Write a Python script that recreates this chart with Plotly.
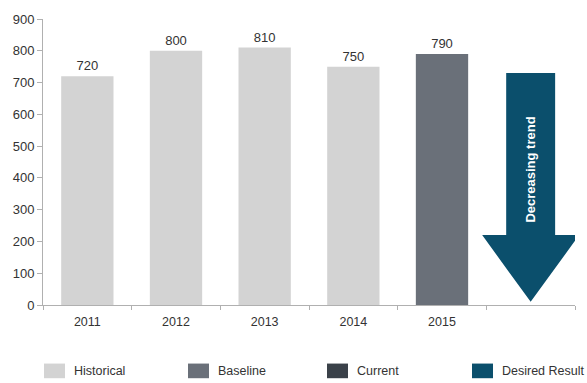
import plotly.graph_objects as go

# --- data ---------------------------------------------------------------
years = ["2011", "2012", "2013", "2014", "2015"]
values = [720, 800, 810, 750, 790]
bar_groups = ["Historical", "Historical", "Historical", "Historical", "Baseline"]

legend_names = ["Historical", "Baseline", "Current", "Desired Result"]
legend_colors = ["#d3d3d3", "#6a7079", "#3a4149", "#0b4f6c"]
group_color = dict(zip(legend_names, legend_colors))

# target arrow (drawn in the empty sixth slot)
arrow_top = 730
arrow_head_base = 220
arrow_tip = 10
arrow_label = "Decreasing trend"

W, H = 587, 383
M = dict(l=43, r=12, t=12, b=78)
FONT = "Liberation Sans, Arial, sans-serif"
TXT = "#333333"

fig = go.Figure()

xs = list(range(len(years)))
fig.add_trace(go.Bar(
    x=xs, y=values,
    marker=dict(color=[group_color[g] for g in bar_groups], line=dict(width=0)),
    width=0.59,
    text=[str(v) for v in values], textposition="outside",
    textfont=dict(family=FONT, size=13, color=TXT),
    cliponaxis=False, showlegend=False, hoverinfo="skip",
))

# arrow polygon centred on slot index 5
cx = len(years)
bw, hw = 0.276, 0.547
ax_pts = [cx - bw, cx + bw, cx + bw, cx + hw, cx, cx - hw, cx - bw, cx - bw]
ay_pts = [arrow_top, arrow_top, arrow_head_base, arrow_head_base, arrow_tip,
          arrow_head_base, arrow_head_base, arrow_top]
fig.add_trace(go.Scatter(
    x=ax_pts, y=ay_pts, mode="lines", fill="toself",
    fillcolor=group_color["Desired Result"], line=dict(width=0),
    showlegend=False, hoverinfo="skip",
))
fig.add_annotation(
    x=cx, y=(arrow_top + arrow_head_base) / 2 - 50, text="<b>" + arrow_label + "</b>",
    textangle=-90, showarrow=False,
    font=dict(family=FONT, size=13, color="white"),
)

# --- legend row (swatch + label), placed in pixel terms ------------------
pw = W - M["l"] - M["r"]
ph = H - M["t"] - M["b"]


def px_x(p):
    return (p - M["l"]) / pw


def px_y(p):
    return (H - M["b"] - p) / ph


swatch_left = [44, 188, 327, 472]
for name, col, sx in zip(legend_names, legend_colors, swatch_left):
    fig.add_shape(type="rect", xref="paper", yref="paper",
                  x0=px_x(sx), x1=px_x(sx + 21), y0=px_y(380), y1=px_y(365),
                  fillcolor=col, line=dict(width=0))
    fig.add_annotation(xref="paper", yref="paper", x=px_x(sx + 28), y=px_y(373),
                       text=name, showarrow=False, xanchor="left", yanchor="middle",
                       font=dict(family=FONT, size=12.5, color=TXT))

axis_col = "#b0b0b0"
fig.update_layout(
    width=W, height=H, margin=M,
    paper_bgcolor="white", plot_bgcolor="white",
    font=dict(family=FONT, size=12, color=TXT),
    xaxis=dict(
        range=[-0.5, 5.5], tickvals=xs, ticktext=years, ticks="",
        showline=True, linecolor=axis_col, linewidth=1, showgrid=False, zeroline=False,
        minor=dict(tick0=-0.5, dtick=1, ticks="outside", ticklen=4, tickcolor=axis_col),
        tickfont=dict(family=FONT, size=12.5, color=TXT), ticklabelstandoff=5,
    ),
    yaxis=dict(
        range=[0, 900], dtick=100, ticks="outside", ticklen=5, tickcolor=axis_col,
        showline=True, linecolor=axis_col, linewidth=1, showgrid=False, zeroline=False,
        tickfont=dict(family=FONT, size=13, color=TXT),
    ),
)

fig.write_html("out.html")
